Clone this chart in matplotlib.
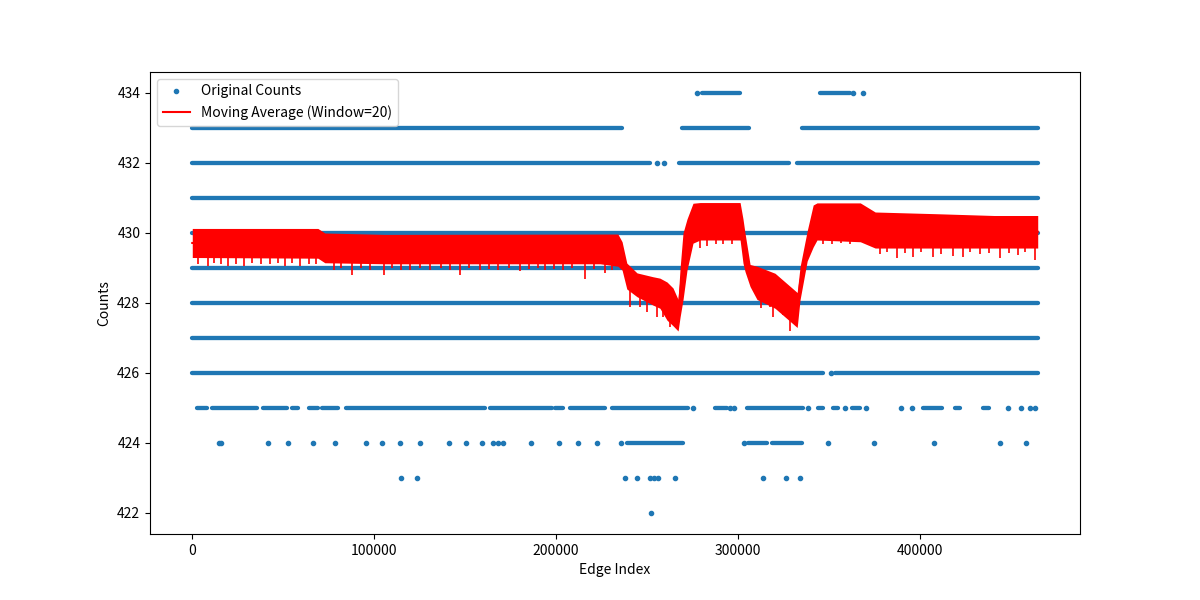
import numpy as np
import matplotlib
matplotlib.use("Agg")
from matplotlib import pyplot as plt

plt.rcParams['font.family'] = ['Noto Sans CJK JP', 'DejaVu Sans']

# dense runs of points: count level, first and last edge index of the run
dense_levels = [434, 434, 433, 433, 433, 432, 432, 432,
                431, 430, 429, 428, 427, 426, 426,
                425, 425, 425, 425, 425, 425, 425, 425, 425, 425, 425,
                425, 425, 425, 425, 425, 425, 425, 425,
                424, 424, 424]
dense_start = [280400, 345300, 0, 269300, 335400, 0, 267700, 332700,
               0, 0, 0, 0, 0, 0, 353600,
               2400, 10700, 38800, 54700, 64000, 71200, 84500, 163700, 199400, 207700, 230800,
               287500, 305200, 344300, 352500, 362900, 402100, 419600, 435000,
               239000, 305700, 318900]
dense_end = [301300, 361800, 236400, 306300, 465000, 251800, 328200, 465000,
             465000, 465000, 465000, 465000, 465000, 346900, 465000,
             7900, 35500, 51900, 58000, 69100, 80000, 160900, 197800, 203800, 227000, 272700,
             294200, 335900, 346900, 355200, 367400, 412500, 422400, 438400,
             269900, 316100, 335400]

# isolated points
single_x = [277600, 363500, 369000,
            255600, 259500,
            351300,
            275400, 295800, 298000, 338700, 359000, 370600, 389900, 396000,
            448800, 455900, 460900, 463600,
            14600, 15700, 41600, 52500, 66300, 78400, 95400, 104300, 114100, 125200,
            141100, 150500, 159300, 165300, 168100, 170900, 186300, 201700, 212200,
            222600, 235800, 303500, 349700, 375100, 408100, 444400, 458700,
            114700, 123500, 238000, 244600, 251800, 253900, 256200, 265500,
            314000, 326600, 334300,
            252300]
single_y = [434, 434, 434,
            432, 432,
            426,
            425, 425, 425, 425, 425, 425, 425, 425,
            425, 425, 425, 425,
            424, 424, 424, 424, 424, 424, 424, 424, 424, 424,
            424, 424, 424, 424, 424, 424, 424, 424, 424,
            424, 424, 424, 424, 424, 424, 424, 424,
            423, 423, 423, 423, 423, 423, 423, 423,
            423, 423, 423,
            422]

# moving average (window=20): upper / lower edge of the noisy band
ma_x = [0, 69100, 72900, 105900, 224300, 234100, 236400, 239000, 244600, 253400,
        257200, 261100, 264400, 267200, 268300, 269900, 272100, 275400, 279300,
        301300, 302900, 304000, 306800, 310600, 320500, 330500, 332700, 334300,
        338200, 341500, 343600, 367400, 375600, 410000, 441000, 465000]
ma_high = [430.13, 430.13, 430.00, 429.96, 429.97, 429.97, 429.75, 429.14, 428.86, 428.75,
           428.71, 428.60, 428.43, 428.10, 429.00, 430.00, 430.40, 430.85, 430.87,
           430.87, 430.40, 430.00, 429.10, 429.05, 428.85, 428.40, 428.30, 429.04,
           430.06, 430.80, 430.86, 430.86, 430.60, 430.55, 430.50, 430.50]
ma_low = [429.30, 429.28, 429.15, 429.12, 429.12, 429.05, 428.94, 428.40, 428.18, 427.94,
          427.85, 427.51, 427.35, 427.20, 427.60, 428.09, 428.94, 429.71, 429.80,
          429.80, 429.14, 428.90, 428.47, 428.10, 427.85, 427.40, 427.30, 428.10,
          429.20, 429.60, 429.80, 429.75, 429.57, 429.57, 429.57, 429.57]

# downward spikes of the moving average
dip_x = [3000, 8500, 12000, 16000, 19500, 24000, 28300, 33000, 38000, 43000,
         47000, 50900, 55000, 59100, 64000, 68000,
         78000, 82000, 87700, 93000, 98000, 105400, 110000, 115000, 119700, 125000,
         131000, 137000, 142000, 147200, 152000, 158200, 163000, 168000, 174000, 180200,
         185000, 190000, 194000, 199000, 204000, 209000, 215900, 221000, 227000, 231000,
         240800, 246200, 250000, 255600, 259000, 263000,
         279300, 283100, 288000, 292000, 297000,
         313000, 317800, 319400, 325000, 329000,
         347000, 352000, 357000, 362000,
         378000, 382000, 387700, 392000, 396500, 401000, 407500, 412000, 418600, 424000,
         428000, 433000, 438000, 444400, 449000, 454000, 458000, 463600]
dip_y = [429.10, 429.05, 429.15, 429.10, 429.05, 429.12, 429.05, 429.15, 429.10, 429.12,
         429.15, 429.07, 429.15, 429.07, 429.12, 429.10,
         428.95, 429.00, 428.80, 429.00, 428.95, 428.80, 429.00, 428.95, 428.95, 429.00,
         428.95, 429.00, 428.95, 428.80, 429.00, 428.95, 428.98, 428.95, 429.00, 428.92,
         428.98, 429.00, 428.95, 428.98, 428.95, 429.00, 428.70, 428.98, 428.85, 428.95,
         427.90, 427.90, 427.75, 427.60, 427.60, 427.30,
         429.57, 429.62, 429.68, 429.70, 429.68,
         427.85, 427.90, 427.60, 427.65, 427.20,
         429.70, 429.68, 429.72, 429.70,
         429.40, 429.45, 429.29, 429.42, 429.30, 429.45, 429.30, 429.40, 429.35, 429.32,
         429.45, 429.40, 429.42, 429.29, 429.42, 429.38, 429.45, 429.23]

fig, ax = plt.subplots(figsize=(12, 6), dpi=100)

blue = '#1f77b4'
ax.hlines(dense_levels, dense_start, dense_end, colors=blue, linewidth=3.1,
          capstyle='round')
ax.plot(single_x, single_y, '.', color=blue, label='Original Counts')

ma_mid = (np.array(ma_high) + np.array(ma_low)) / 2
ax.fill_between(ma_x, ma_low, ma_high, color='red', linewidth=0, zorder=3)
ax.vlines(dip_x, dip_y, np.interp(dip_x, ma_x, ma_mid), colors='red', linewidth=1.2, zorder=3)
ax.plot(ma_x, ma_mid, color='red', label='Moving Average (Window=20)', zorder=3)

ax.set_xlabel('Edge Index')
ax.set_ylabel('Counts')
ax.legend(loc='upper left')

plt.savefig('out.png')
